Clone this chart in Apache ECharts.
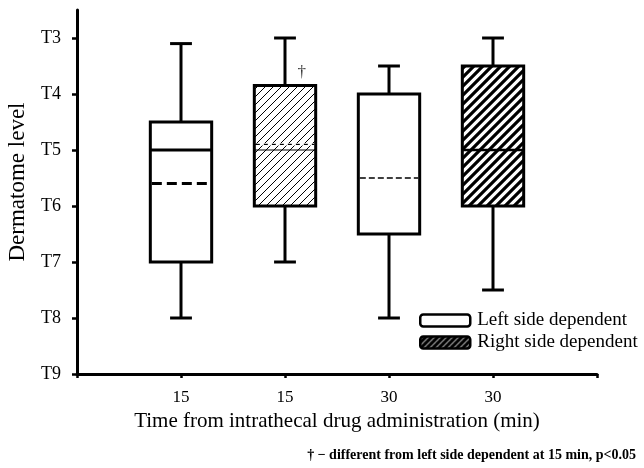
<!DOCTYPE html>
<html>
<head>
<meta charset="utf-8">
<script src="https://cdn.jsdelivr.net/npm/echarts@6/dist/echarts.min.js"></script>
<style>html,body{margin:0;padding:0;background:#fff}#c{width:644px;height:468px}</style>
</head>
<body>
<div id="c"></div>
<script>
// ---- data (dermatome level: 3 = T3 ... 9 = T9) ----
const xPositions   = [1, 2, 3, 4];
const xTickLabels  = ['', '15', '15', '30', '30', ''];
const groups       = ['Left side dependent', 'Right side dependent', 'Left side dependent', 'Right side dependent'];
const whiskerTop   = [3.1, 3.0, 3.5, 3.0];
const boxTop       = [4.5, 3.85, 4.0, 3.5];
const medians      = [5.0, 5.0, null, 5.0];
const boxBottom    = [7.0, 6.0, 6.5, 6.0];
const whiskerBot   = [8.0, 7.0, 8.0, 7.5];
const means        = [5.6, 4.9, 5.5, null];
const yTickValues  = [3, 4, 5, 6, 7, 8, 9];
const annotations  = [[2.16, 3.62, '†']];

// ---- styles ----
function hatch(size, lw, bg, fg) {
  const cv = document.createElement('canvas');
  cv.width = cv.height = size;
  const ctx = cv.getContext('2d');
  ctx.fillStyle = bg; ctx.fillRect(0, 0, size, size);
  ctx.strokeStyle = fg; ctx.lineWidth = lw;
  ctx.beginPath();
  ctx.moveTo(0, size); ctx.lineTo(size, 0);
  ctx.moveTo(-size / 2, size / 2); ctx.lineTo(size / 2, -size / 2);
  ctx.moveTo(size / 2, size * 1.5); ctx.lineTo(size * 1.5, size / 2);
  ctx.stroke();
  return cv;
}
const thinHatch  = { image: hatch(8, 1, '#fff', '#000'), repeat: 'repeat' };
const thickHatch = { image: hatch(9, 3.2, '#fff', '#000'), repeat: 'repeat' };
const legendHatch = { image: hatch(6, 3.5, '#fff', '#000'), repeat: 'repeat' };
const boxStyles = [
  { fill: '#fff', medW: 3, meanW: 3, dash: [10, 5] },
  { fill: thinHatch, medW: 1.2, meanW: 1.2, dash: [4, 4] },
  { fill: '#fff', medW: 1.5, meanW: 1.5, dash: [6, 3] },
  { fill: thickHatch, medW: 2.5, meanW: 2.5, dash: [6, 3] }
];

const FONT = 'Liberation Serif';
const chart = echarts.init(document.getElementById('c'));

const boxData = xPositions.map((x, i) => [x, whiskerTop[i], boxTop[i], medians[i], boxBottom[i], whiskerBot[i], means[i], i]);

function makeSeries(name) {
  return {
    name: name,
    type: 'custom',
    clip: false,
    data: boxData.filter((d, i) => groups[i] === name),
    encode: { x: 0, y: [1, 2, 3, 4, 5] },
    renderItem: function (params, api) {
      const x = api.value(0);
      const idx = api.value(7);
      const st = boxStyles[idx];
      const unit = api.size([1, 0])[0];
      const hw = unit * 0.295;
      const cw = unit * 0.105;
      const c = v => api.coord([x, v]);
      const pTop = c(api.value(1)), pBoxT = c(api.value(2)), pBoxB = c(api.value(4)), pBot = c(api.value(5));
      const cx = pTop[0];
      const line = (x1, y1, x2, y2, w, dash) => ({
        type: 'line', shape: { x1, y1, x2, y2 },
        style: { stroke: '#000', lineWidth: w, lineDash: dash || null, lineCap: 'butt' }
      });
      const children = [
        line(cx, pTop[1], cx, pBoxT[1], 3),
        line(cx - cw, pTop[1], cx + cw, pTop[1], 3),
        line(cx, pBoxB[1], cx, pBot[1], 3),
        line(cx - cw, pBot[1], cx + cw, pBot[1], 3),
        { type: 'rect', shape: { x: cx - hw, y: pBoxT[1], width: 2 * hw, height: pBoxB[1] - pBoxT[1] },
          style: { fill: st.fill, stroke: '#000', lineWidth: 3 } }
      ];
      const med = api.value(3);
      if (med != null && !isNaN(med)) {
        const p = c(med);
        children.push(line(cx - hw, p[1], cx + hw, p[1], st.medW));
      }
      const mean = api.value(6);
      if (mean != null && !isNaN(mean)) {
        const p = c(mean);
        children.push({ type: 'rect', shape: { x: cx - hw + 2, y: p[1] - st.meanW / 2 - 0.5, width: 2 * hw - 4, height: st.meanW + 1 },
          style: { fill: '#fff' } });
        children.push(line(cx - hw + 1.5, p[1], cx + hw - 1.5, p[1], st.meanW, st.dash));
      }
      return { type: 'group', children };
    }
  };
}

chart.setOption({
  animation: false,
  backgroundColor: '#fff',
  title: {
    text: '† − different from left side dependent at 15 min, p<0.05',
    right: 3, top: 443,
    textStyle: { fontFamily: FONT, fontSize: 14, fontWeight: 'bold', color: '#000' }
  },
  grid: { left: 77, right: 47, top: 10, bottom: 94, outerBoundsMode: 'none', containLabel: false },
  legend: {
    left: 414, top: 306, orient: 'vertical',
    itemWidth: 50, itemHeight: 12, itemGap: 3,
    textStyle: { fontFamily: FONT, fontSize: 19, color: '#000', padding: [0, 0, 0, 2] },
    data: [
      { name: 'Left side dependent', icon: 'roundRect', itemStyle: { color: '#fff', borderColor: '#000', borderWidth: 2.5 } },
      { name: 'Right side dependent', icon: 'roundRect', itemStyle: { color: legendHatch, borderColor: '#000', borderWidth: 2.5 } }
    ]
  },
  xAxis: {
    type: 'value', min: 0, max: 5, interval: 1,
    name: 'Time from intrathecal drug administration (min)',
    nameLocation: 'middle', nameGap: 37,
    nameTextStyle: { fontFamily: FONT, fontSize: 21, color: '#000' },
    axisLine: { lineStyle: { color: '#000', width: 3 } },
    axisTick: { show: true, length: 4, lineStyle: { color: '#000', width: 2.5 } },
    axisLabel: { margin: 15, fontFamily: FONT, fontSize: 17, color: '#000', formatter: v => xTickLabels[Math.round(v)] || '' },
    splitLine: { show: false }
  },
  yAxis: {
    type: 'value', inverse: true, min: 2.5, max: 9,
    name: 'Dermatome level',
    nameLocation: 'middle', nameGap: 48,
    nameTextStyle: { fontFamily: FONT, fontSize: 23, color: '#000', padding: [0, 0, 0, 20] },
    axisLine: { show: true, lineStyle: { color: '#000', width: 3 } },
    axisTick: { show: true, length: 5, customValues: yTickValues, lineStyle: { color: '#000', width: 2.5 } },
    axisLabel: { margin: 16, fontFamily: FONT, fontSize: 18, color: '#000', customValues: yTickValues, formatter: v => 'T' + v },
    splitLine: { show: false }
  },
  series: [
    makeSeries('Left side dependent'),
    makeSeries('Right side dependent'),
    {
      type: 'scatter', silent: true, symbolSize: 0, data: annotations,
      label: { show: true, formatter: p => p.data[2], fontFamily: FONT, fontSize: 17, color: '#000', position: 'inside' }
    }
  ]
});
</script>
</body>
</html>
